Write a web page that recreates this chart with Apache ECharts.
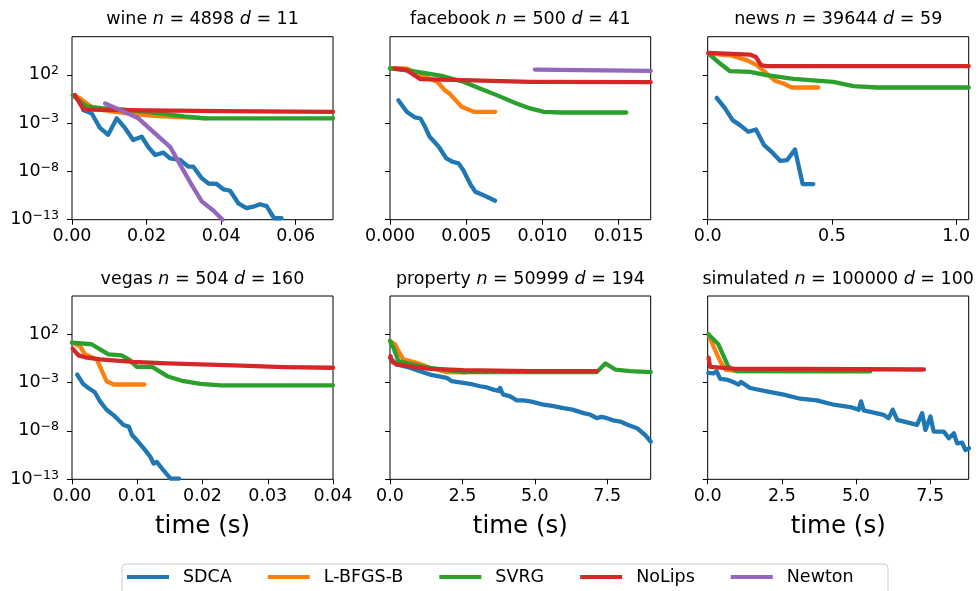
<!DOCTYPE html>
<html><head><meta charset="utf-8">
<script src="https://cdn.jsdelivr.net/npm/echarts@6/dist/echarts.min.js"></script>
<style>html,body{margin:0;padding:0;background:#fff}#c{width:979px;height:591px}</style>
</head><body><div id="c"></div>
<script>
// ---------------- data ----------------
const methods = ['SDCA', 'L-BFGS-B', 'SVRG', 'NoLips', 'Newton'];
const colors = ['#1f77b4', '#ff7f0e', '#2ca02c', '#d62728', '#9467bd'];

const panelNames = ['wine', 'facebook', 'news', 'vegas', 'property', 'simulated'];
const panelN = [4898, 500, 39644, 504, 50999, 100000];
const panelD = [11, 41, 59, 160, 194, 100];
const xMax = [0.07, 0.0171, 1.05, 0.04, 9.0, 8.8];
const xTicks = [[0, 0.02, 0.04, 0.06], [0, 0.005, 0.010, 0.015], [0, 0.5, 1.0], [0, 0.01, 0.02, 0.03, 0.04], [0, 2.5, 5.0, 7.5], [0, 2.5, 5.0, 7.5]];
const xDecimals = [2, 3, 1, 2, 1, 1];
const yTickExp = [-13, -8, -3, 2];   // tick labels 10^-13 ... 10^2
const yMinExp = -13, yMaxExp = 5.95;

// each point: [time (s), log10 of suboptimality]
const wine_SDCA = [[0.003,-1.65],[0.0053,-2.0],[0.0075,-3.5],[0.0097,-4.2],[0.012,-2.5],[0.0142,-3.5],[0.0164,-4.75],[0.0187,-4.4],[0.0205,-5.5],[0.0223,-6.3],[0.0245,-6.05],[0.0263,-6.65],[0.029,-6.8],[0.0312,-7.5],[0.0325,-7.5],[0.0348,-8.7],[0.0366,-9.25],[0.0388,-9.3],[0.0406,-9.85],[0.0424,-10.0],[0.0446,-11.3],[0.0468,-11.8],[0.0486,-11.65],[0.0504,-11.4],[0.0522,-11.6],[0.0542,-12.85],[0.0562,-12.85]];
const wine_LBFGS = [[0.0002,-0.1],[0.002,-0.4],[0.004,-1.0],[0.006,-1.5],[0.01,-1.75],[0.016,-2.05],[0.022,-2.25],[0.03,-2.4],[0.036,-2.5]];
const wine_SVRG = [[0.0002,-0.1],[0.002,-0.7],[0.004,-1.3],[0.008,-1.45],[0.014,-1.6],[0.0236,-2.0],[0.03,-2.3],[0.036,-2.5],[0.07,-2.5]];
const wine_NoLips = [[0.0008,-0.1],[0.0029,-1.48],[0.004,-1.6],[0.02,-1.68],[0.04,-1.75],[0.07,-1.83]];
const wine_Newton = [[0.0089,-0.96],[0.012,-1.47],[0.0178,-2.5],[0.0218,-3.9],[0.0263,-5.45],[0.029,-7.3],[0.0321,-9.4],[0.0348,-11.1],[0.0379,-12.05],[0.0404,-13]];

const facebook_SDCA = [[0.00055,-0.62],[0.0011,-1.83],[0.00164,-2.41],[0.002,-2.52],[0.0023,-3.38],[0.0026,-4.41],[0.0032,-5.45],[0.0037,-6.66],[0.0041,-7.0],[0.0045,-7.17],[0.0048,-7.86],[0.0053,-9.41],[0.0056,-10.1],[0.0061,-10.45],[0.0069,-11.03]];
const facebook_LBFGS = [[0,2.66],[0.0011,2.66],[0.00175,2.14],[0.0031,1.28],[0.0036,0.41],[0.0039,0.07],[0.0043,-0.62],[0.0047,-1.31],[0.0055,-1.83],[0.0069,-1.83]];
const facebook_SVRG = [[0,2.66],[0.0015,2.38],[0.0035,1.86],[0.0048,1.28],[0.0059,0.59],[0.007,-0.1],[0.0083,-0.97],[0.0092,-1.48],[0.0101,-1.83],[0.0112,-1.9],[0.0155,-1.9]];
const facebook_NoLips = [[0.0003,2.66],[0.0011,2.48],[0.002,1.55],[0.0048,1.45],[0.0092,1.28],[0.0171,1.24]];
const facebook_Newton = [[0.0095,2.55],[0.0171,2.41]];

const news_SDCA = [[0.036,-0.38],[0.07,-1.48],[0.1,-2.69],[0.13,-3.21],[0.164,-3.9],[0.194,-3.66],[0.227,-5.28],[0.257,-5.97],[0.291,-6.9],[0.32,-6.83],[0.351,-5.72],[0.382,-9.31],[0.425,-9.31]];
const news_LBFGS = [[0.003,4.21],[0.09,4.03],[0.157,3.52],[0.197,3.0],[0.23,2.31],[0.271,1.38],[0.304,1.1],[0.338,0.69],[0.445,0.69]];
const news_SVRG = [[0.003,4.21],[0.05,3.17],[0.09,2.38],[0.17,2.31],[0.237,1.97],[0.345,1.59],[0.505,1.28],[0.586,0.83],[0.68,0.69],[1.05,0.69]];
const news_NoLips = [[0.003,4.28],[0.17,4.1],[0.194,3.86],[0.214,3.0],[0.237,2.9],[1.05,2.9]];

const vegas_SDCA = [[0.0008,-2.17],[0.0017,-3.14],[0.0025,-3.56],[0.0035,-4.0],[0.0043,-4.94],[0.0053,-5.81],[0.0066,-6.5],[0.0079,-7.38],[0.0087,-7.55],[0.0092,-8.42],[0.0099,-8.94],[0.011,-9.8],[0.012,-10.67],[0.0125,-11.37],[0.013,-11.2],[0.014,-12.06],[0.0151,-12.93],[0.0164,-12.93]];
const vegas_LBFGS = [[0,1.13],[0.0012,0.78],[0.002,-0.08],[0.0038,-0.6],[0.0046,-1.82],[0.0053,-2.86],[0.0064,-3.2],[0.0111,-3.2]];
const vegas_SVRG = [[0,1.13],[0.003,0.96],[0.0043,0.44],[0.0056,-0.08],[0.0076,-0.19],[0.0087,-0.6],[0.0099,-1.37],[0.0123,-1.37],[0.0146,-2.34],[0.0171,-2.86],[0.0197,-3.14],[0.0228,-3.28],[0.04,-3.28]];
const vegas_NoLips = [[0.0001,0.51],[0.001,-0.19],[0.0023,-0.43],[0.0043,-0.6],[0.0094,-0.85],[0.0146,-1.02],[0.0248,-1.23],[0.0325,-1.4],[0.04,-1.47]];

const property_SDCA = [[0,-0.43],[0.23,-1.13],[0.69,-1.47],[1.0,-1.8],[1.38,-2.17],[1.6,-2.3],[1.96,-2.51],[2.13,-2.86],[2.53,-3.03],[2.8,-3.15],[3.11,-3.38],[3.35,-3.5],[3.57,-3.73],[3.75,-3.85],[3.8,-3.55],[3.86,-4.0],[3.92,-4.25],[4.15,-4.42],[4.38,-4.84],[4.6,-4.85],[4.84,-4.94],[5.05,-5.1],[5.3,-5.29],[5.6,-5.4],[5.99,-5.64],[6.3,-5.8],[6.68,-6.16],[6.9,-6.3],[7.14,-6.68],[7.3,-6.55],[7.49,-6.68],[7.7,-6.9],[7.95,-7.03],[8.2,-7.35],[8.53,-7.72],[8.81,-8.42],[9.0,-9.1]];
const property_LBFGS = [[0,1.3],[0.17,0.96],[0.29,0.26],[0.46,-0.6],[0.92,-0.95],[1.38,-1.47],[1.96,-1.92],[2.6,-1.95]];
const property_SVRG = [[0,1.3],[0.12,0.61],[0.29,-0.78],[0.81,-1.13],[1.38,-1.47],[2.53,-1.92],[7.14,-1.92],[7.43,-1.02],[7.78,-1.65],[8.29,-1.82],[9.0,-1.92]];
const property_NoLips = [[0.02,-0.26],[0.05,-0.78],[0.23,-1.13],[0.81,-1.37],[1.38,-1.58],[2.53,-1.72],[4.84,-1.82],[7.14,-1.82]];

const simulated_SDCA = [[0.02,-2.0],[0.19,-2.06],[0.3,-1.82],[0.42,-2.62],[0.64,-2.69],[0.92,-3.03],[1.04,-3.21],[1.12,-2.93],[1.43,-3.56],[1.99,-3.9],[2.56,-4.25],[3.12,-4.67],[3.68,-4.84],[4.25,-5.29],[4.81,-5.53],[5.09,-5.81],[5.17,-4.94],[5.26,-5.88],[5.93,-6.33],[6.1,-6.68],[6.24,-5.81],[6.39,-6.85],[7.06,-7.38],[7.23,-6.16],[7.34,-7.9],[7.51,-6.5],[7.62,-8.07],[7.96,-8.07],[8.13,-8.76],[8.3,-8.24],[8.41,-9.28],[8.58,-9.22],[8.69,-9.98],[8.81,-9.8]];
const simulated_LBFGS = [[0.02,2.0],[0.19,0.78],[0.42,-0.78],[0.59,-1.65],[0.98,-1.82],[5.48,-1.85]];
const simulated_SVRG = [[0.02,2.0],[0.36,0.96],[0.7,-1.37],[0.98,-1.82],[5.48,-1.82]];
const simulated_NoLips = [[0.03,-0.43],[0.08,-1.37],[0.87,-1.55],[7.29,-1.65]];

const panelSeries = [
  [wine_SDCA, wine_LBFGS, wine_SVRG, wine_NoLips, wine_Newton],
  [facebook_SDCA, facebook_LBFGS, facebook_SVRG, facebook_NoLips, facebook_Newton],
  [news_SDCA, news_LBFGS, news_SVRG, news_NoLips, null],
  [vegas_SDCA, vegas_LBFGS, vegas_SVRG, vegas_NoLips, null],
  [property_SDCA, property_LBFGS, property_SVRG, property_NoLips, null],
  [simulated_SDCA, simulated_LBFGS, simulated_SVRG, simulated_NoLips, null]
];

// ---------------- layout ----------------
const FONT = 'DejaVu Sans';
const colLeft = [72, 390, 707.7];
const colWidth = [261, 260.7, 261];
const rowTop = [36.7, 296];
const rowHeight = [183, 183.3];

const grids = [], xAxes = [], yAxes = [], series = [], graphics = [];

graphics.push({
  type: 'rect', z: 0,
  shape: { x: 122, y: 564, width: 766, height: 40, r: 4 },
  style: { fill: '#fff', stroke: '#cccccc', lineWidth: 1 }
});

for (let i = 0; i < 6; i++) {
  const r = Math.floor(i / 3), c = i % 3;
  grids.push({
    left: colLeft[c], top: rowTop[r], width: colWidth[c], height: rowHeight[r],
    show: true, borderColor: '#000', borderWidth: 1, backgroundColor: 'transparent'
  });
  const dec = xDecimals[i];
  xAxes.push({
    type: 'value', gridIndex: i, min: 0, max: xMax[i], position: 'bottom',
    axisLine: { show: false, onZero: false },
    splitLine: { show: false },
    axisTick: { show: true, length: 5, lineStyle: { color: '#000', width: 1 }, customValues: xTicks[i] },
    axisLabel: {
      customValues: xTicks[i], margin: 8, color: '#000', fontSize: 17.5, fontFamily: FONT,
      formatter: v => v.toFixed(dec)
    },
    name: r === 1 ? 'time (s)' : '', nameLocation: 'middle', nameGap: 35,
    nameTextStyle: { fontSize: 24.5, fontFamily: FONT, color: '#000' }
  });
  yAxes.push({
    type: 'value', gridIndex: i, min: yMinExp, max: yMaxExp, position: 'left',
    axisLine: { show: false, onZero: false },
    splitLine: { show: false },
    axisTick: { show: true, length: 5, lineStyle: { color: '#000', width: 1 }, customValues: yTickExp },
    axisLabel: {
      show: c === 0, customValues: yTickExp, margin: 13, color: '#000',
      formatter: v => '{b|10}{s|' + (v < 0 ? '\u2212' : '') + Math.abs(v) + '}',
      rich: {
        b: { fontSize: 17.5, fontFamily: FONT, color: '#000' },
        s: { fontSize: 12.5, fontFamily: FONT, color: '#000', padding: [0, 0, 8, 0] }
      }
    }
  });
  panelSeries[i].forEach((data, m) => {
    if (!data) return;
    series.push({
      type: 'line', name: methods[m], xAxisIndex: i, yAxisIndex: i,
      data: data, showSymbol: false, symbol: 'none', animation: false,
      lineStyle: { color: colors[m], width: 4.3, cap: 'round', join: 'round' },
      itemStyle: { color: colors[m] }
    });
  });
  // title
  graphics.push({
    type: 'text',
    x: colLeft[c] + colWidth[c] / 2,
    y: r === 0 ? 19.5 : 279,
    style: {
      text: '{a|' + panelNames[i] + ' }{i|n}{a| = ' + panelN[i] + ' }{i|d}{a| = ' + panelD[i] + '}',
      align: 'center', verticalAlign: 'middle',
      rich: {
        a: { fontSize: 17.5, fontFamily: FONT, fill: '#000' },
        i: { fontSize: 17.5, fontFamily: FONT, fontStyle: 'italic', fill: '#000' }
      }
    }
  });
}

const chart = echarts.init(document.getElementById('c'), null, { renderer: 'canvas' });
chart.setOption({
  backgroundColor: '#fff',
  animation: false,
  grid: grids, xAxis: xAxes, yAxis: yAxes, series: series,
  graphic: graphics,
  legend: {
    data: methods, left: 127, top: 568, icon: 'rect', itemWidth: 42, itemHeight: 4, itemGap: 36,
    padding: 0, z: 10,
    textStyle: { fontSize: 17.5, fontFamily: FONT, color: '#000', padding: [0, 0, 0, 9] }
  }
});
</script>
</body></html>
